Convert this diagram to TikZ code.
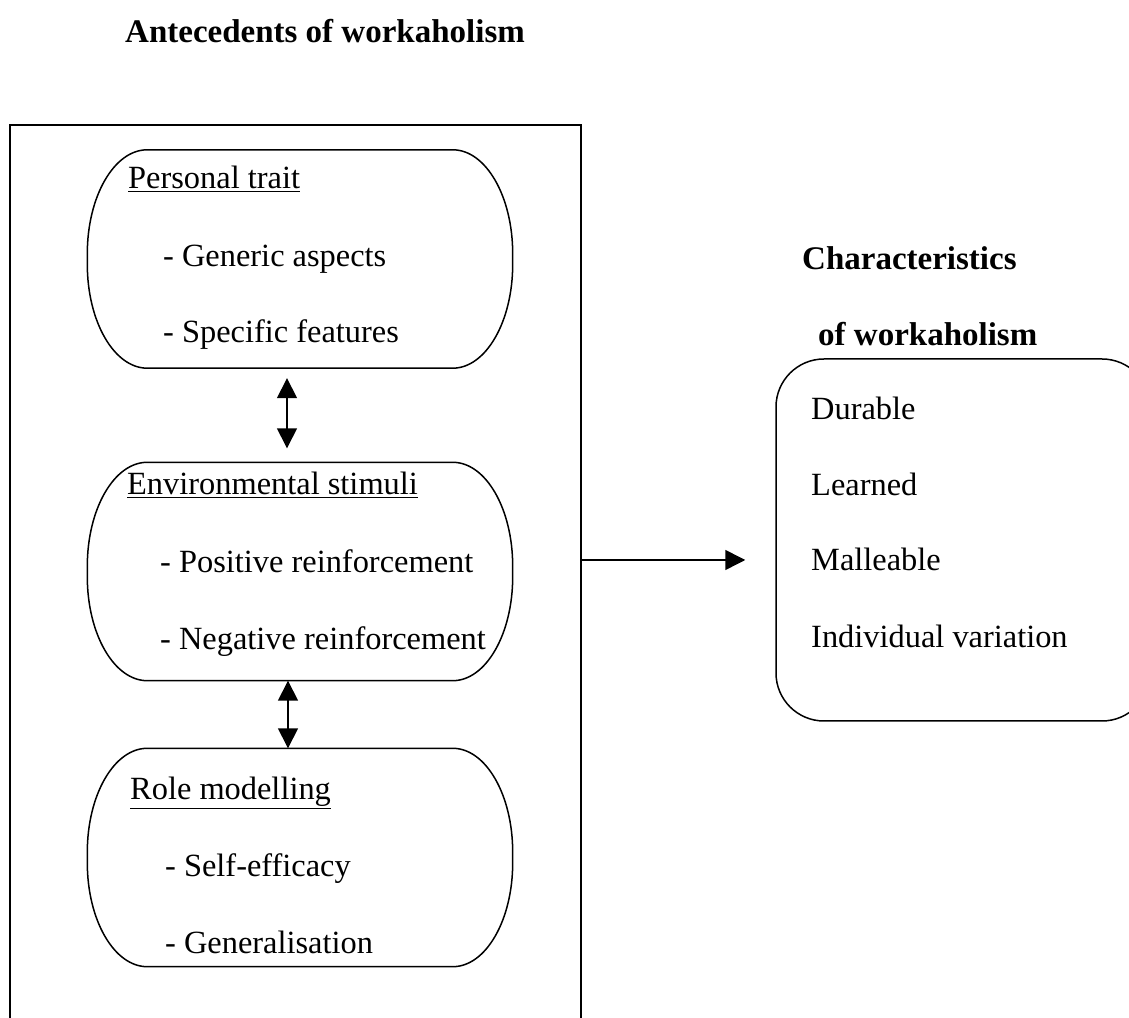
\documentclass[tikz,border=0pt]{standalone}
\usepackage{fontspec}
\setmainfont{Liberation Serif}
\usetikzlibrary{arrows.meta}
\tikzset{
  txt/.style={anchor=base west, inner sep=0pt, font=\fontsize{32.4}{38}\selectfont},
  ttl/.style={anchor=base west, inner sep=0pt, font=\fontsize{33}{38}\selectfont\bfseries},
  pillbox/.style={draw=none, minimum width=425pt, minimum height=218pt, inner sep=0pt},
  line/.style={line width=1.5pt, black},
  arr/.style={line width=1.5pt, -{Triangle[length=20pt,width=20pt]}},
  darr/.style={line width=1.5pt, {Triangle[length=20pt,width=20pt]}-{Triangle[length=20pt,width=20pt]}}
}
\newcommand\pillpath[1]{%
  \draw[line] ([xshift=60pt]#1.north west) -- ([xshift=-60pt]#1.north east)
    arc[start angle=90, end angle=0, x radius=60pt, y radius=104pt]
    -- ([yshift=104pt]#1.south east)
    arc[start angle=0, end angle=-90, x radius=60pt, y radius=104pt]
    -- ([xshift=60pt]#1.south west)
    arc[start angle=270, end angle=180, x radius=60pt, y radius=104pt]
    -- ([yshift=-104pt]#1.north west)
    arc[start angle=180, end angle=90, x radius=60pt, y radius=104pt]
    -- cycle;}
\begin{document}
\begin{tikzpicture}[x=1pt,y=1pt]
\useasboundingbox (0,0) rectangle (1129,1017);
\clip (0,0) rectangle (1129,1017);
\fill[white] (0,0) rectangle (1129,1017);

% titles
\node[ttl] (title1) at (125,974) {Antecedents of workaholism};
\node[ttl] (title2) at (802,747) {Characteristics};
\node[ttl] (title3) at (818,671) {of workaholism};

% outer box (runs past bottom)
\node[draw, line, minimum width=571pt, minimum height=922pt, inner sep=0pt] (outer) at (295.5,431) {};

% pills
\node[pillbox] (p1) at (300,758) {};
\node[pillbox] (p2) at (300,445.5) {};
\node[pillbox] (p3) at (300,159.5) {};
\pillpath{p1}
\pillpath{p2}
\pillpath{p3}

% pill texts
\node[txt] (t11) at (128,828) {\underline{Personal trait}};
\node[txt] (t12) at (163,750) {- Generic aspects};
\node[txt] (t13) at (163,674) {- Specific features};
\node[txt] (t21) at (127,522) {\underline{Environmental stimuli}};
\node[txt] (t22) at (160,444) {- Positive reinforcement};
\node[txt] (t23) at (160,367) {- Negative reinforcement};
\node[txt] (t31) at (130,217) {\underline{Role modelling}};
\node[txt] (t32) at (165,140) {- Self-efficacy};
\node[txt] (t33) at (165,64) {- Generalisation};

% right box
\node[draw, line, rounded corners=48pt, minimum width=374pt, minimum height=362pt, inner sep=0pt] (rbox) at (963,477) {};
\node[txt] (r1) at (811,597) {Durable};
\node[txt] (r2) at (811,521) {Learned};
\node[txt] (r3) at (811,446) {Malleable};
\node[txt] (r4) at (811,369) {Individual variation};

% connectors
\draw[darr, shorten <=10pt, shorten >=14pt] ([xshift=-13pt]p1.south) -- ([xshift=-13pt]p2.north);
\draw[darr] ([xshift=-12pt]p2.south) -- ([xshift=-12pt]p3.north);
\draw[arr, shorten >=30pt] ([yshift=26pt]outer.east) -- ([yshift=-20pt]rbox.west);
\end{tikzpicture}
\end{document}
